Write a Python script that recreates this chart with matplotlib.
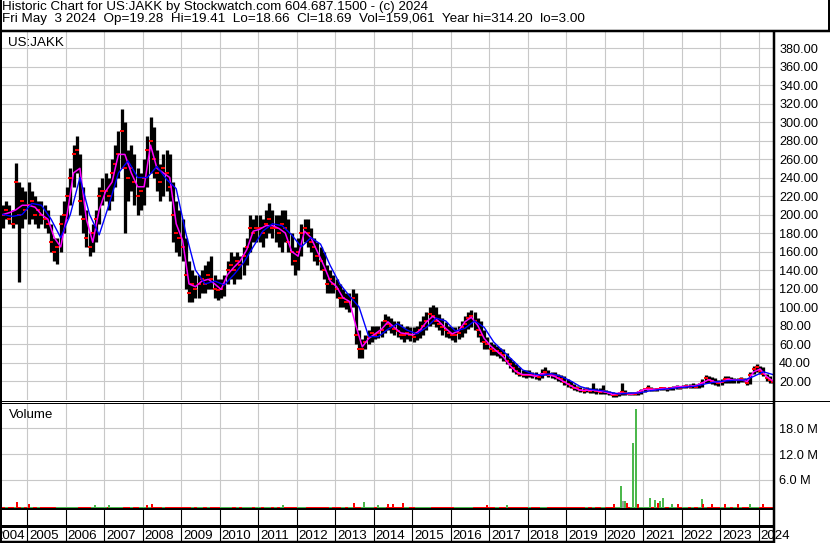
import matplotlib
matplotlib.use('Agg')
import matplotlib.pyplot as plt
import matplotlib.transforms as mtransforms
import pandas as pd

plt.rcParams['font.family'] = ['Liberation Sans', 'DejaVu Sans']

# monthly bars, May 2004 .. May 2024 (split adjusted prices)
months = pd.period_range('2004-05', '2024-05', freq='M')

hi = [210, 215, 210, 205, 256, 235, 230, 225,
      235, 225, 220, 215, 215, 210, 205, 190, 175, 175, 200, 215,
      230, 250, 275, 285, 265, 230, 205, 180, 190, 205, 230, 240,
      245, 240, 260, 275, 290, 314, 300, 270, 275, 265, 250, 245,
      260, 285, 305, 295, 270, 255, 265, 270, 265, 235, 215, 205,
      195, 175, 150, 140, 135, 135, 140, 145, 150, 155, 135, 130,
      130, 135, 150, 160, 155, 160, 155, 165, 175, 200, 195, 200,
      200, 195, 205, 212, 205, 200, 200, 205, 205, 195, 180, 165,
      175, 190, 195, 195, 185, 175, 170, 165, 160, 145, 140, 135,
      130, 125, 120, 115, 115, 120, 115, 75, 65, 70, 75, 80,
      80, 80, 85, 92, 90, 88, 85, 85, 82, 78, 80, 78,
      78, 80, 85, 90, 95, 100, 102, 100, 92, 88, 84, 80,
      78, 78, 80, 85, 90, 95, 97, 95, 88, 85, 75, 68,
      62, 60, 58, 56, 55, 50, 45, 42, 38, 35, 32, 32,
      32, 30, 30, 28, 33, 35, 32, 30, 30, 28, 27, 25,
      22, 20, 17, 15, 14, 13, 14, 13, 18, 12, 12, 16,
      10, 9, 8, 7, 8, 18, 10, 8, 8, 8, 9, 11,
      13, 16, 14, 13, 13, 14, 14, 13, 14, 15, 16, 15,
      16, 17, 17, 18, 17, 18, 22, 26, 25, 24, 23, 21,
      22, 25, 25, 24, 23, 23, 24, 23, 22, 30, 36, 38,
      36, 35, 28, 25, 20]

lo = [185, 195, 190, 185, 190, 127, 185, 195,
      190, 195, 190, 185, 190, 185, 180, 160, 150, 147, 160, 180,
      195, 210, 230, 245, 200, 180, 165, 155, 160, 170, 190, 210,
      215, 205, 215, 230, 240, 250, 180, 215, 225, 210, 200, 205,
      210, 230, 245, 240, 225, 215, 220, 225, 215, 170, 160, 155,
      150, 120, 105, 105, 110, 110, 115, 115, 120, 120, 110, 108,
      110, 112, 125, 130, 125, 130, 130, 135, 145, 160, 170, 170,
      170, 165, 175, 180, 175, 170, 165, 160, 170, 160, 145, 135,
      140, 155, 170, 165, 160, 150, 145, 140, 130, 115, 115, 115,
      110, 100, 100, 98, 95, 100, 60, 45, 45, 55, 60, 62,
      65, 66, 68, 72, 75, 72, 70, 68, 65, 62, 65, 63,
      62, 64, 66, 70, 75, 80, 82, 78, 75, 70, 68, 66,
      64, 62, 65, 68, 72, 76, 78, 75, 68, 62, 55, 55,
      48, 48, 47, 45, 42, 38, 34, 30, 28, 25, 24, 23,
      24, 23, 22, 21, 23, 26, 24, 23, 22, 20, 19, 16,
      14, 12, 10, 9, 8, 7, 8, 7, 7, 6, 6, 6,
      6, 5, 3, 3, 4, 5, 5, 5, 5, 5, 5, 6,
      8, 10, 9, 9, 9, 10, 10, 9, 10, 10, 11, 11,
      12, 12, 12, 13, 12, 13, 14, 18, 18, 17, 16, 15,
      16, 18, 18, 18, 18, 18, 19, 19, 16, 17, 28, 30,
      28, 25, 20, 18, 18]

cl = [200, 205, 195, 190, 235, 200, 215, 205,
      210, 215, 200, 205, 200, 195, 190, 170, 160, 165, 190, 200,
      220, 240, 265, 270, 215, 195, 175, 165, 180, 195, 220, 225,
      225, 220, 245, 255, 265, 290, 250, 240, 250, 235, 220, 225,
      240, 270, 280, 260, 245, 235, 250, 245, 230, 200, 180, 175,
      165, 135, 115, 125, 120, 125, 130, 125, 135, 130, 120, 118,
      120, 125, 140, 145, 140, 150, 145, 155, 165, 185, 180, 185,
      185, 180, 190, 195, 185, 185, 180, 190, 185, 170, 160, 150,
      160, 180, 185, 180, 170, 165, 155, 150, 140, 125, 130, 125,
      120, 110, 110, 105, 105, 110, 70, 55, 55, 62, 68, 72,
      70, 72, 75, 85, 82, 80, 76, 74, 70, 70, 72, 70,
      68, 72, 75, 80, 85, 92, 90, 85, 82, 78, 75, 72,
      70, 70, 72, 78, 82, 88, 90, 85, 75, 70, 62, 60,
      55, 52, 52, 50, 48, 42, 38, 34, 31, 28, 27, 26,
      27, 26, 25, 24, 28, 30, 27, 26, 25, 23, 22, 19,
      17, 15, 13, 12, 10, 9, 10, 9, 10, 9, 8, 9,
      8, 7, 5, 5, 6, 8, 7, 6, 6, 6, 7, 9,
      11, 12, 11, 10, 11, 12, 12, 11, 12, 13, 14, 13,
      14, 15, 14, 15, 14, 16, 18, 23, 21, 20, 19, 18,
      19, 22, 22, 21, 21, 21, 22, 21, 18, 27, 33, 35,
      31, 28, 23, 21, 18.69]

# short moving average (magenta), read every 2nd month
ma_fast = [200, 202, 205, 210, 210, 208, 200, 195, 175, 165,
           200, 245, 250, 195, 170, 205, 225, 235, 265, 265,
           245, 230, 230, 275, 250, 245, 240, 190, 172, 125,
           122, 128, 130, 125, 119, 135, 143, 150, 162, 182,
           184, 188, 188, 185, 180, 160, 155, 182, 175, 160,
           145, 128, 122, 110, 106, 80, 57, 66, 71, 76,
           84, 78, 72, 71, 70, 75, 84, 90, 84, 77,
           71, 74, 84, 89, 80, 66, 58, 52, 46, 37,
           30, 27, 27, 25, 28, 27, 25, 21, 17, 13,
           10, 10, 10, 9, 8, 5.5, 7, 6.5, 6, 8,
           11, 11, 11, 12, 12, 14, 14, 14.5, 15, 18,
           21.5, 19, 19, 22, 21, 21.5, 19.5, 30, 33, 25,
           20]

# long moving average (blue), read every 3rd month
ma_slow = [200, 198, 200, 212, 210, 195, 175, 200, 240, 200,
           178, 210, 245, 258, 240, 240, 252, 238, 228, 180,
           140, 125, 128, 124, 135, 148, 165, 182, 190, 188,
           178, 165, 175, 168, 145, 125, 112, 100, 68, 68,
           76, 82, 75, 71, 78, 88, 85, 74, 77, 85,
           78, 62, 52, 42, 32, 28, 26, 28, 25, 20,
           14, 11, 10, 8, 6, 7, 7, 9, 10.5, 11.5,
           12.5, 13.5, 14.5, 17, 19, 20, 21, 21, 25, 30,
           27]

# notable daily volume bars (millions) and their colour
vol_when = [2004.75, 2005.05, 2006.77, 2007.13, 2008.12, 2008.25, 2011.65,
            2013.49, 2013.75, 2014.12, 2014.38, 2014.51, 2014.77, 2016.95,
            2017.47, 2020.25, 2020.44, 2020.47, 2020.53, 2020.58, 2020.75,
            2020.82, 2020.87, 2021.18, 2021.31, 2021.39, 2021.44, 2021.52,
            2021.75, 2021.91, 2022.53, 2022.57, 2022.79, 2023.13, 2023.47,
            2023.78, 2024.12]
vol_m = [0.95, 0.3, 0.25, 0.25, 0.25, 0.3, 0.25,
         0.6, 0.8, 0.25, 0.3, 0.3, 0.7, 0.2,
         0.2, 0.35, 4.5, 1.2, 1.2, 0.6, 14.6,
         22.5, 0.5, 1.7, 1.3, 0.7, 1.0, 1.7,
         0.4, 0.3, 1.5, 0.5, 0.35, 0.3, 0.5,
         0.3, 0.4]
vol_col = ['r', 'r', 'g', 'g', 'r', 'r', 'g',
           'r', 'g', 'g', 'r', 'r', 'r', 'r',
           'g', 'r', 'g', 'x', 'g', 'r', 'g',
           'g', 'r', 'g', 'g', 'r', 'g', 'g',
           'g', 'r', 'g', 'r', 'r', 'r', 'r',
           'g', 'r']

year_labels = list(range(2004, 2025))

header1 = 'Historic Chart for US:JAKK by Stockwatch.com 604.687.1500 - (c) 2024'
header2 = ('Fri May  3 2024  Op=19.28  Hi=19.41  Lo=18.66  Cl=18.69  '
           'Vol=159,061  Year hi=314.20  lo=3.00')

RED, GREEN, GREY = '#ff0000', '#4cb84c', '#a0a0a0'
GRID = '#c8c8c8'

W, H = 830, 543
fig = plt.figure(figsize=(W / 100, H / 100), dpi=100)


def box(l, t, r, b):
    return [l / W, 1 - b / H, (r - l) / W, (b - t) / H]


def px2yr(px):
    # year boundaries sit 38.5 px apart, 2005 at x=27
    return 2005 + (px - 27) / 38.5


x0, x1 = px2yr(0), px2yr(773.5)
t = months.year + (months.month - 0.5) / 12

# ---- price panel
ax = fig.add_axes(box(0, 31, 773.5, 400))
ax.set_xlim(x0, x1)
ax.set_ylim(-0.5, 398.4)
ax.set_xticks(range(2005, 2025))
ax.set_yticks(range(20, 400, 20))
ax.grid(color=GRID, lw=0.8)
ax.set_axisbelow(True)
for s in ax.spines.values():
    s.set_visible(False)
ax.tick_params(length=0, labelbottom=False, labelleft=False,
               labelright=True, pad=4, labelsize=9.2)
ax.yaxis.set_major_formatter(lambda v, p: f'{v:.2f}')

ax.vlines(t, lo, hi, color='black', lw=2.35)
ax.plot(t, cl, ls='none', marker='_', ms=2.6, mew=1.4, color=RED)
ax.plot(t[::2], ma_fast, color='#ff00ff', lw=1.1)
ax.plot(t[::3], ma_slow, color='#0000ff', lw=1.0)

# ---- volume panel
vax = fig.add_axes(box(0, 402.5, 773.5, 508.5))
vax.set_xlim(x0, x1)
vax.set_ylim(-0.63, 24.0)
vax.set_xticks(range(2005, 2025))
vax.set_yticks([6, 12, 18])
vax.grid(color=GRID, lw=0.8)
vax.set_axisbelow(True)
for s in vax.spines.values():
    s.set_visible(False)
vax.tick_params(length=0, labelbottom=False, labelleft=False,
                labelright=True, pad=4, labelsize=9.2)
vax.yaxis.set_major_formatter(lambda v, p: f'{v:.1f} M')

strip_col = [GREEN if i and cl[i] >= cl[i - 1] else RED for i in range(len(cl))]
vax.bar(t, 0.45, bottom=-0.63, width=1 / 12, color=strip_col, lw=0)
cmap = {'r': RED, 'g': GREEN, 'x': GREY}
vax.bar(vol_when, [v + 0.63 for v in vol_m], bottom=-0.63, width=0.05,
        color=[cmap[c] for c in vol_col], lw=0)

# ---- year label rows
yax = fig.add_axes(box(0, 509, 773.5, 541))
yax.set_xlim(x0, x1)
yax.set_ylim(0, 1)
yax.axis('off')
yax.vlines(range(2005, 2025), 0, 1, color='black', lw=0.8)
right_of = mtransforms.offset_copy(yax.transData, fig, x=2, units='dots')
left_of = mtransforms.offset_copy(yax.transData, fig, x=-2, units='dots')
for yr in year_labels:
    if yr == year_labels[0]:
        yax.text(yr + 1, 0.05, str(yr), transform=left_of, ha='right',
                 va='baseline', fontsize=9.6)
    else:
        yax.text(yr, 0.05, str(yr), transform=right_of, ha='left',
                 va='baseline', fontsize=9.6)

# ---- frame lines and captions, drawn in pixel space on top
ov = fig.add_axes([0, 0, 1, 1], zorder=10)
ov.set_xlim(0, W)
ov.set_ylim(H, 0)
ov.axis('off')


def seg(xa, ya, xb, yb, px):
    ov.plot([xa, xb], [ya, yb], color='black', lw=px * 0.72,
            solid_capstyle='butt')


seg(1, 0, 1, H, 2)
seg(0, 30.5, W, 30.5, 2.5)
seg(828.5, 0, 828.5, 31, 2)
seg(0, 400.5, W, 400.5, 1)
seg(0, 402.5, 774, 402.5, 1)
seg(774.2, 30, 774.2, H, 2.5)
seg(0, 509.2, 774, 509.2, 2)
seg(0, 525.5, 774, 525.5, 3)
seg(0, 541.8, 774, 541.8, 2.5)

ov.text(2, 10, header1, fontsize=9.6, va='baseline')
ov.text(2, 22, header2, fontsize=9.7, va='baseline')
ov.text(8, 46, 'US:JAKK', fontsize=9.6, va='baseline')
ov.text(9, 418, 'Volume', fontsize=9.6, va='baseline')

fig.savefig('out.png', dpi=100)
